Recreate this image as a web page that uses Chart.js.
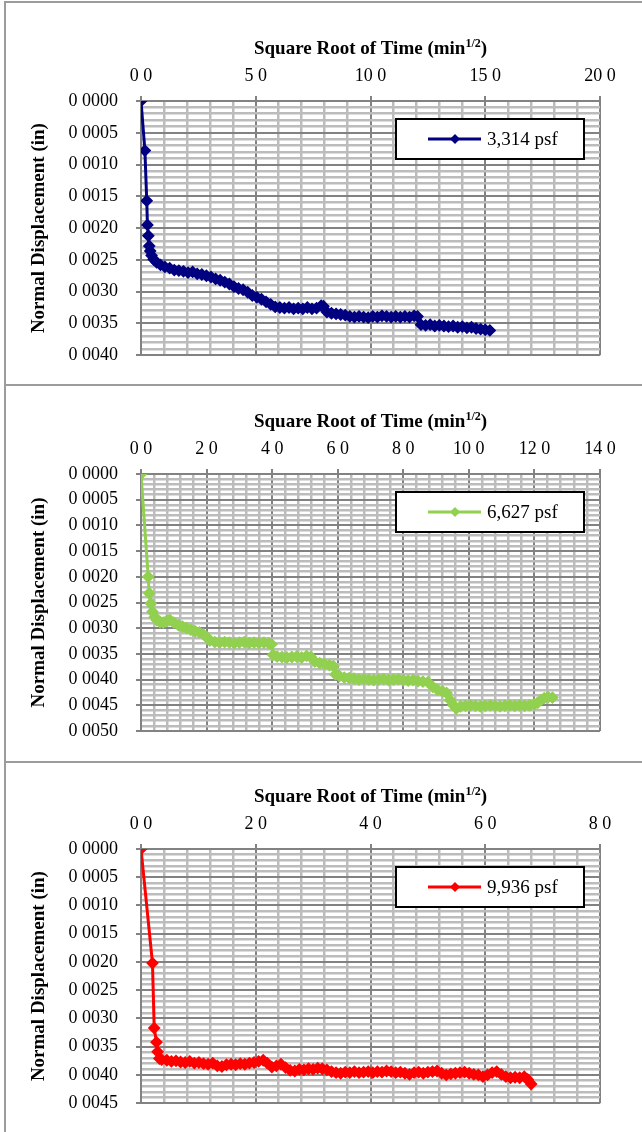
<!DOCTYPE html>
<html lang="en">
<head>
<meta charset="utf-8">
<title>Normal Displacement vs Square Root of Time</title>
<script src="https://cdn.jsdelivr.net/npm/chart.js"></script>
<style>
  body { margin: 0; background: #fff; }
  .panel { position: absolute; left: 4px; width: 636px; border-left: 2px solid #9c9c9c; border-top: 2px solid #9c9c9c; }
  .panel canvas { display: block; }
</style>
</head>
<body>
<div class="panel" style="top:1px;height:381px"><canvas id="chart1" width="636" height="381"></canvas></div>
<div class="panel" style="top:384px;height:375px"><canvas id="chart2" width="636" height="375"></canvas></div>
<div class="panel" style="top:761px;height:369px"><canvas id="chart3" width="636" height="369"></canvas></div>

<script>
// normal stress of each test
const load1 = '3,314 psf';
const load2 = '6,627 psf';
const load3 = '9,936 psf';

// [sqrt time (min^1/2), normal displacement (in)]
const points1 = [
  [0, 0], [0.17, 0.00078], [0.25, 0.00157], [0.28, 0.00195], [0.32, 0.00212], [0.36, 0.00228],
  [0.40, 0.00236], [0.46, 0.00243], [0.55, 0.00249], [0.68, 0.00254], [0.85, 0.00258], [1.04, 0.00261],
  [1.25, 0.00263], [1.45, 0.00266], [1.65, 0.00267], [1.85, 0.00268], [2.05, 0.00270], [2.25, 0.00269],
  [2.45, 0.00272], [2.65, 0.00273], [2.85, 0.00275], [3.05, 0.00277], [3.25, 0.00280], [3.45, 0.00282],
  [3.65, 0.00285], [3.85, 0.00288], [4.05, 0.00292], [4.25, 0.00295], [4.45, 0.00297], [4.65, 0.00301],
  [4.85, 0.00306], [5.05, 0.00309], [5.25, 0.00312], [5.45, 0.00316], [5.65, 0.00320], [5.85, 0.00324],
  [6.05, 0.00325], [6.25, 0.00326], [6.45, 0.00325], [6.65, 0.00327], [6.85, 0.00326], [7.05, 0.00327],
  [7.25, 0.00325], [7.45, 0.00327], [7.65, 0.00326], [7.85, 0.00322], [7.95, 0.00323], [8.10, 0.00332],
  [8.30, 0.00334], [8.50, 0.00335], [8.70, 0.00336], [8.90, 0.00337], [9.10, 0.00339], [9.30, 0.00340],
  [9.50, 0.00339], [9.70, 0.00340], [9.90, 0.00341], [10.1, 0.00339], [10.3, 0.00340], [10.5, 0.00338],
  [10.7, 0.00339], [10.9, 0.00340], [11.1, 0.00339], [11.3, 0.00340], [11.5, 0.00339], [11.7, 0.00340],
  [11.9, 0.00338], [12.05, 0.00339], [12.2, 0.00352], [12.4, 0.00353], [12.6, 0.00352], [12.8, 0.00354],
  [13.0, 0.00353], [13.2, 0.00354], [13.4, 0.00355], [13.6, 0.00354], [13.8, 0.00356], [14.0, 0.00355],
  [14.2, 0.00357], [14.4, 0.00356], [14.6, 0.00358], [14.8, 0.00359], [15.0, 0.00360], [15.2, 0.00361]
];

const points2 = [
  [0, 0], [0.22, 0.00200], [0.25, 0.00232], [0.30, 0.00252], [0.35, 0.00268], [0.42, 0.00278],
  [0.48, 0.00284], [0.58, 0.00288], [0.68, 0.00289], [0.78, 0.00286], [0.88, 0.00284], [1.00, 0.00289],
  [1.14, 0.00294], [1.27, 0.00297], [1.39, 0.00300], [1.52, 0.00303], [1.65, 0.00306], [1.78, 0.00308],
  [1.90, 0.00312], [2.00, 0.00317], [2.10, 0.00324], [2.25, 0.00327], [2.40, 0.00328], [2.55, 0.00327],
  [2.70, 0.00328], [2.85, 0.00329], [3.00, 0.00328], [3.15, 0.00327], [3.30, 0.00329], [3.45, 0.00328],
  [3.60, 0.00329], [3.75, 0.00328], [3.90, 0.00330], [3.98, 0.00331], [4.03, 0.00352], [4.15, 0.00355],
  [4.30, 0.00356], [4.45, 0.00357], [4.60, 0.00356], [4.75, 0.00355], [4.90, 0.00357], [5.05, 0.00354],
  [5.18, 0.00356], [5.30, 0.00365], [5.45, 0.00368], [5.60, 0.00370], [5.75, 0.00372], [5.87, 0.00374],
  [5.93, 0.00390], [6.05, 0.00393], [6.20, 0.00396], [6.35, 0.00397], [6.50, 0.00398], [6.65, 0.00400],
  [6.80, 0.00399], [6.95, 0.00400], [7.10, 0.00401], [7.25, 0.00400], [7.40, 0.00399], [7.55, 0.00401],
  [7.70, 0.00400], [7.85, 0.00399], [8.00, 0.00401], [8.15, 0.00402], [8.30, 0.00401], [8.45, 0.00403],
  [8.60, 0.00404], [8.75, 0.00405], [8.90, 0.00414], [9.05, 0.00420], [9.20, 0.00423], [9.32, 0.00426],
  [9.43, 0.00440], [9.53, 0.00450], [9.62, 0.00456], [9.75, 0.00452], [9.90, 0.00451], [10.05, 0.00450],
  [10.2, 0.00451], [10.35, 0.00452], [10.5, 0.00451], [10.65, 0.00450], [10.8, 0.00451], [10.95, 0.00452],
  [11.1, 0.00451], [11.25, 0.00450], [11.4, 0.00451], [11.55, 0.00450], [11.7, 0.00451], [11.85, 0.00450],
  [12.0, 0.00448], [12.1, 0.00445], [12.2, 0.00440], [12.3, 0.00436], [12.42, 0.00434], [12.55, 0.00435]
];

const points3 = [
  [0, 0], [0.20, 0.00202], [0.23, 0.00317], [0.27, 0.00342], [0.29, 0.00359], [0.32, 0.00371],
  [0.36, 0.00373], [0.45, 0.00374], [0.53, 0.00376], [0.61, 0.00375], [0.69, 0.00377], [0.77, 0.00378],
  [0.85, 0.00376], [0.93, 0.00379], [1.01, 0.00378], [1.09, 0.00380], [1.17, 0.00381], [1.25, 0.00379],
  [1.33, 0.00384], [1.41, 0.00385], [1.49, 0.00382], [1.57, 0.00381], [1.65, 0.00382], [1.73, 0.00380],
  [1.81, 0.00381], [1.89, 0.00379], [1.97, 0.00378], [2.05, 0.00376], [2.13, 0.00374], [2.20, 0.00379],
  [2.28, 0.00386], [2.36, 0.00384], [2.44, 0.00381], [2.52, 0.00387], [2.60, 0.00392], [2.68, 0.00393],
  [2.76, 0.00390], [2.84, 0.00391], [2.92, 0.00389], [3.00, 0.00390], [3.08, 0.00388], [3.16, 0.00389],
  [3.24, 0.00391], [3.32, 0.00394], [3.40, 0.00396], [3.48, 0.00397], [3.56, 0.00395], [3.64, 0.00396],
  [3.72, 0.00394], [3.80, 0.00396], [3.88, 0.00395], [3.96, 0.00394], [4.04, 0.00396], [4.12, 0.00394],
  [4.20, 0.00395], [4.28, 0.00393], [4.36, 0.00394], [4.44, 0.00396], [4.52, 0.00395], [4.60, 0.00397],
  [4.68, 0.00399], [4.76, 0.00396], [4.84, 0.00395], [4.92, 0.00397], [5.00, 0.00395], [5.08, 0.00394],
  [5.16, 0.00393], [5.24, 0.00397], [5.32, 0.00400], [5.40, 0.00398], [5.48, 0.00397], [5.56, 0.00396],
  [5.64, 0.00395], [5.72, 0.00397], [5.80, 0.00399], [5.88, 0.00400], [5.96, 0.00403], [6.04, 0.00400],
  [6.12, 0.00396], [6.20, 0.00394], [6.28, 0.00399], [6.36, 0.00403], [6.44, 0.00405], [6.52, 0.00404],
  [6.60, 0.00405], [6.68, 0.00403], [6.74, 0.00408], [6.80, 0.00416]
];

const FONT = "'Liberation Serif', 'Times New Roman', serif";
const MAJOR = '#828282';
const MINOR = '#bcbcbc';

Chart.defaults.font.family = FONT;
Chart.defaults.color = '#000';

function isMajor(v, step) {
  const r = v / step;
  return Math.abs(r - Math.round(r)) < 1e-6;
}

// decimal point shows as a gap in the printed labels
function fmt(v, digits) {
  return v.toFixed(digits).replace('.', ' ');
}

// x axis caption with the superscript exponent
const timeCaption = {
  id: 'timeCaption',
  afterDraw(chart) {
    const { ctx, chartArea } = chart;
    const main = 'Square Root of Time (min', sup = '1/2', tail = ')';
    const big = 'bold 19px ' + FONT, small = 'bold 12px ' + FONT;
    ctx.save();
    ctx.fillStyle = '#000';
    ctx.textBaseline = 'alphabetic';
    ctx.font = big;
    const w1 = ctx.measureText(main).width, w3 = ctx.measureText(tail).width;
    ctx.font = small;
    const w2 = ctx.measureText(sup).width;
    let x = (chartArea.left + chartArea.right) / 2 - (w1 + w2 + w3) / 2;
    const y = chartArea.top - 47;
    ctx.font = big;
    ctx.fillText(main, x, y);
    x += w1;
    ctx.font = small;
    ctx.fillText(sup, x, y - 7);
    x += w2;
    ctx.font = big;
    ctx.fillText(tail, x, y);
    ctx.restore();
  }
};

// framed legend sitting inside the plot
const framedLegend = {
  id: 'framedLegend',
  afterDraw(chart) {
    const ds = chart.data.datasets[0];
    const { ctx, chartArea } = chart;
    const w = 188, h = 40;
    const left = chartArea.right - 204, top = chartArea.top + 18;
    const cy = top + h / 2;
    ctx.save();
    ctx.fillStyle = '#fff';
    ctx.fillRect(left, top, w, h);
    ctx.strokeStyle = '#000';
    ctx.lineWidth = 2;
    ctx.strokeRect(left, top, w, h);
    ctx.strokeStyle = ds.borderColor;
    ctx.lineWidth = 3;
    ctx.beginPath();
    ctx.moveTo(left + 32, cy);
    ctx.lineTo(left + 85, cy);
    ctx.stroke();
    ctx.fillStyle = ds.borderColor;
    ctx.beginPath();
    ctx.moveTo(left + 59, cy - 5);
    ctx.lineTo(left + 64, cy);
    ctx.lineTo(left + 59, cy + 5);
    ctx.lineTo(left + 54, cy);
    ctx.closePath();
    ctx.fill();
    ctx.fillStyle = '#000';
    ctx.font = '19px ' + FONT;
    ctx.textBaseline = 'middle';
    ctx.fillText(ds.label, left + 91, cy + 1);
    ctx.restore();
  }
};

function makeChart(id, points, label, color, xMax, xMajor, xMinor, yMax, padTop, padBottom) {
  const gridOf = (step) => ({
    color: c => isMajor(c.tick.value, step) ? MAJOR : MINOR,
    lineWidth: c => isMajor(c.tick.value, step) ? 2 : 2.5,
    tickLength: 5,
    tickColor: c => isMajor(c.tick.value, step) ? MAJOR : 'rgba(0,0,0,0)'
  });

  return new Chart(document.getElementById(id), {
    type: 'line',
    data: {
      datasets: [{
        label: label,
        data: points.map(p => ({ x: p[0], y: p[1] })),
        borderColor: color,
        backgroundColor: color,
        borderWidth: 3,
        pointStyle: 'rectRot',
        pointRadius: 5,
        pointBorderWidth: 2,
        tension: 0
      }]
    },
    options: {
      responsive: false,
      animation: false,
      events: [],
      layout: { padding: { top: padTop, bottom: padBottom, left: 0, right: 42 } },
      plugins: {
        legend: { display: false },
        tooltip: { enabled: false }
      },
      scales: {
        x: {
          type: 'linear',
          position: 'top',
          min: 0,
          max: xMax,
          afterFit: s => { s.height = 40; },
          ticks: {
            stepSize: xMinor,
            autoSkip: false,
            maxRotation: 0,
            padding: 9,
            font: { size: 18 },
            callback: v => isMajor(v, xMajor) ? fmt(v, 1) : ''
          },
          grid: gridOf(xMajor),
          border: { color: MAJOR, width: 2 }
        },
        y: {
          reverse: true,
          min: 0,
          max: yMax,
          afterFit: s => { s.width = 135; },
          title: {
            display: true,
            text: 'Normal Displacement (in)',
            font: { size: 19, weight: 'bold' },
            padding: { top: 22, bottom: 0 }
          },
          ticks: {
            stepSize: 0.0001,
            autoSkip: false,
            padding: 18,
            font: { size: 18 },
            callback: v => isMajor(v, 0.0005) ? fmt(v, 4) : ''
          },
          grid: gridOf(0.0005),
          border: { color: MAJOR, width: 2 }
        }
      }
    },
    plugins: [timeCaption, framedLegend]
  });
}

makeChart('chart1', points1, load1, '#000080', 20, 5, 1, 0.004, 58, 27);
makeChart('chart2', points2, load2, '#92d050', 14, 2, 0.4, 0.005, 48, 30);
makeChart('chart3', points3, load3, '#ff0000', 8, 2, 0.4, 0.0045, 46, 27);
</script>
</body>
</html>
